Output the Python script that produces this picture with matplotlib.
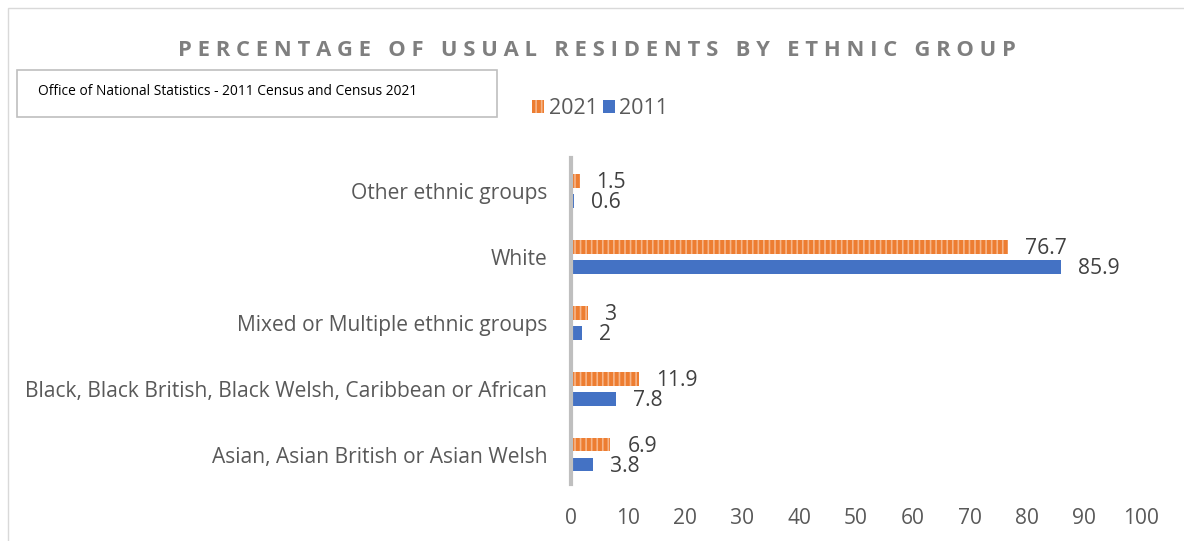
import numpy as np
import matplotlib
matplotlib.use('Agg')
from matplotlib import pyplot as plt
from matplotlib.patches import Rectangle

plt.rcParams['font.family'] = ['Open Sans', 'DejaVu Sans']
plt.rcParams['hatch.linewidth'] = 1.2

# data
categories = ['Asian, Asian British or Asian Welsh',
              'Black, Black British, Black Welsh, Caribbean or African',
              'Mixed or Multiple ethnic groups',
              'White',
              'Other ethnic groups']
values2021 = [6.9, 11.9, 3, 76.7, 1.5]
values2011 = [3.8, 7.8, 2, 85.9, 0.6]
labels2021 = ['6.9', '11.9', '3', '76.7', '1.5']
labels2011 = ['3.8', '7.8', '2', '85.9', '0.6']
xticks = [0, 10, 20, 30, 40, 50, 60, 70, 80, 90, 100]

orange = '#ED7D31'
orangeLight = '#F6B68A'
blue = '#4472C4'
textColor = '#404040'

fig = plt.figure(figsize=(11.84, 5.41), dpi=100)
ax = fig.add_axes([0.4823, 0.105, 0.4814, 0.603])

y = np.arange(len(categories))
h = 0.21
off = 0.152

b21 = ax.barh(y + off, values2021, height=h, color=orange, edgecolor=orangeLight,
              hatch='|||', linewidth=0, label='2021')
b11 = ax.barh(y - off, values2011, height=h, color=blue, linewidth=0, label='2011')

for rect, lab in zip(b21, labels2021):
    ax.annotate(lab, (rect.get_width(), rect.get_y() + rect.get_height() / 2),
                xytext=(17, -2), textcoords='offset pixels', ha='left', va='center',
                fontsize=15.2, color=textColor)
for rect, lab in zip(b11, labels2011):
    ax.annotate(lab, (rect.get_width(), rect.get_y() + rect.get_height() / 2),
                xytext=(17, -2), textcoords='offset pixels', ha='left', va='center',
                fontsize=15.2, color=textColor)

ax.set_xlim(0, 100)
ax.set_ylim(-0.45, 4.5)
ax.set_xticks(xticks)
ax.set_yticks(y)
ax.set_yticklabels(categories)
ax.tick_params(axis='both', length=0, labelsize=15.1, labelcolor='#595959')
ax.tick_params(axis='x', pad=17)
ax.tick_params(axis='y', pad=17)
for s in ['top', 'right', 'bottom']:
    ax.spines[s].set_visible(False)
ax.spines['left'].set_color('#BFBFBF')
ax.spines['left'].set_linewidth(3)

# title with spaced letters
title = 'PERCENTAGE OF USUAL RESIDENTS BY ETHNIC GROUP'
spaced = '   '.join(' '.join(w) for w in title.split(' '))
fig.text(597 / 1184, 1 - 50 / 541, spaced, ha='center', va='center',
         fontsize=15.85, fontweight='bold', color='#7F7F7F')

# source box
fig.patches.append(Rectangle((17 / 1184, 1 - 117 / 541), 480 / 1184, 47 / 541,
                             transform=fig.transFigure, facecolor='white',
                             edgecolor='#BFBFBF', linewidth=1.2))
fig.text(38 / 1184, 1 - 92 / 541, 'Office of National Statistics - 2011 Census and Census 2021',
         ha='left', va='center', fontsize=9.9, color='black')

# outer chart border
fig.patches.append(Rectangle((8 / 1184, -0.1), 1.2, 1.1 - 8 / 541,
                             transform=fig.transFigure, facecolor='none',
                             edgecolor='#D9D9D9', linewidth=1))

leg = fig.legend(handles=[b21, b11], labels=['2021', '2011'], loc='center left',
                 bbox_to_anchor=(513 / 1184, 1 - 109 / 541), ncol=2, frameon=False,
                 fontsize=15.5, handlelength=0.55, handleheight=0.55,
                 handletextpad=0.2, columnspacing=0.25)
for t in leg.get_texts():
    t.set_color('#595959')

fig.savefig('out.png', dpi=100)
